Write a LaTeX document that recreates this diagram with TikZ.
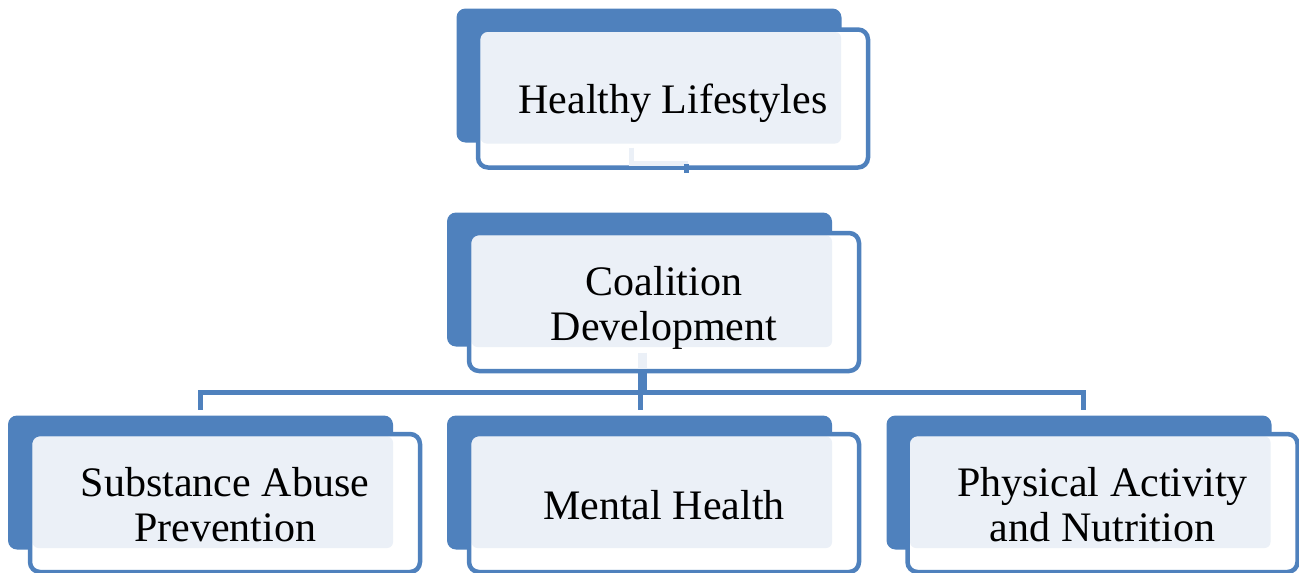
\documentclass[tikz,border=0pt]{standalone}
\usepackage{fontspec}
\setmainfont{Liberation Serif}
\usetikzlibrary{calc}

\definecolor{accent}{HTML}{4F81BD}
\definecolor{paleblue}{HTML}{EBF0F7}

\begin{document}
\begin{tikzpicture}[x=1pt,y=-1pt,
    backbox/.style={rectangle,rounded corners=9pt,fill=accent,outer sep=0pt,inner sep=0pt,
        minimum width=385pt,minimum height=134pt},
    frontbox/.style={rectangle,rounded corners=10pt,draw=accent,line width=4.5pt,fill=white,
        outer sep=0pt,inner sep=0pt,minimum width=390pt,minimum height=138pt,
        path picture={\fill[paleblue,rounded corners=6pt]
            ([xshift=2.5pt,yshift=-2.5pt]path picture bounding box.north west) rectangle
            ([xshift=363pt,yshift=-114pt]path picture bounding box.north west);}},
    boxtext/.style={align=center,inner sep=0pt,font=\fontsize{42}{45}\selectfont},
    link/.style={accent,line width=5pt},
    faintlink/.style={paleblue,line width=5pt}]
    \useasboundingbox (0,0) rectangle (1299,573);

    % Top level
    \node[backbox] (top-b) at (649,75.5) {};
    \node[frontbox] (top-f) at (673,98.5) {};
    \node[boxtext] (top-t) at ($(top-f)+(0,5)$) {Healthy Lifestyles};

    % Second level
    \node[backbox] (mid-b) at (639.5,279.5) {};
    \node[frontbox] (mid-f) at (664,302) {};
    \node[boxtext] (mid-t) at ($(mid-f)+(0,5.5)$) {Coalition\\Development};

    % Third level
    \node[backbox] (sap-b) at (200.5,482.5) {};
    \node[frontbox] (sap-f) at (225,503) {};
    \node[boxtext] (sap-t) at ($(sap-f)+(0,1.5)$) {Substance Abuse\\Prevention};

    \node[backbox] (mh-b) at (639.5,482.5) {};
    \node[frontbox] (mh-f) at (664,503) {};
    \node[boxtext] (mh-t) at ($(mh-f)+(0,2.5)$) {Mental Health};

    \node[backbox] (pan-b) at (1079,482.5) {};
    \node[frontbox] (pan-f) at (1102.5,503) {};
    \node[boxtext] (pan-t) at ($(pan-f)+(0,1.5)$) {Physical Activity\\and Nutrition};

    % Top to second level (mostly hidden)
    \draw[faintlink] ($(top-b.south)+(-18,5)$) |- ($(top-f.south)+(15,-4)$);
    \draw[link] ($(top-f.south)+(13,-4)$) -- ($(top-f.south)+(13,5)$);

    % Second to third level
    \draw[faintlink,line width=9pt] ($(mid-b.south)+(2.5,6)$) -- ($(mid-f.south)+(-22,-2)$);
    \draw[link,line width=9pt] ($(mid-f.south)+(-22,0)$) -- ++(0,22);
    \draw[link] ($(mid-f.south)+(-24,0)$) -- ++(0,39);
    \draw[link] ($(sap-b.north)+(0,-6)$) |- ($(pan-b.north)+(4,-23)$) -- ($(pan-b.north)+(4,-6)$);
\end{tikzpicture}
\end{document}
